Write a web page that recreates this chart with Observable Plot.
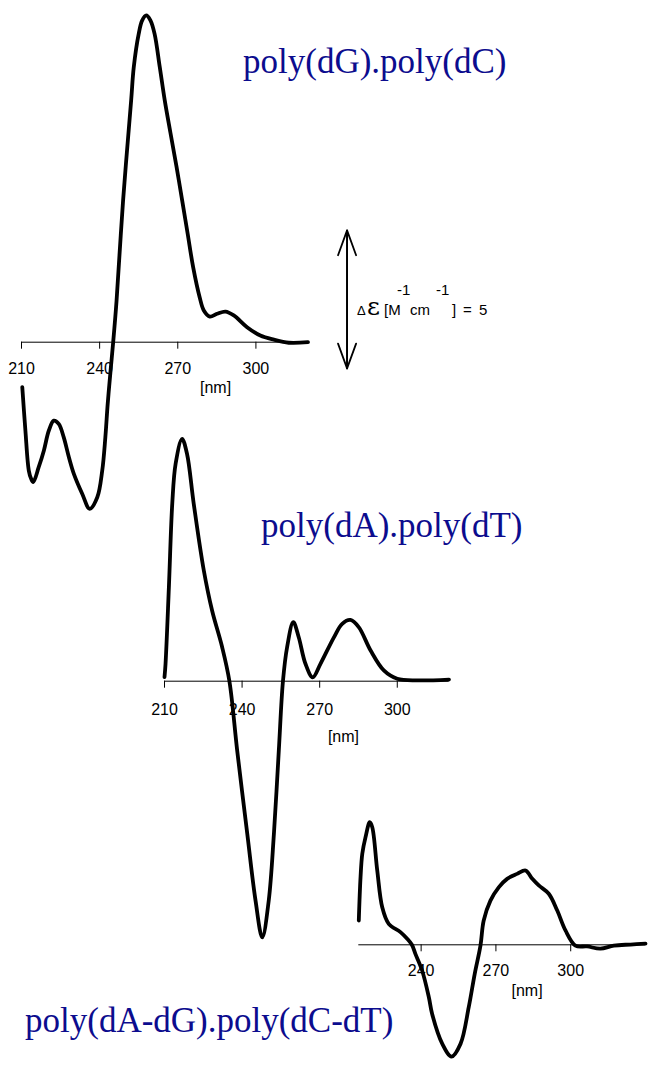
<!DOCTYPE html>
<html><head><meta charset="utf-8">
<script src="https://cdn.jsdelivr.net/npm/d3@7"></script>
<script src="https://cdn.jsdelivr.net/npm/@observablehq/plot@0.6"></script>
<style>
body{margin:0;background:#fff;}
#wrap{position:relative;width:651px;height:1065px;overflow:hidden;background:#fff;}
#wrap svg{position:absolute;left:0;top:0;}
</style></head><body><div id="wrap"></div>
<script>
// ---- data (wavelength in nm, delta epsilon in M^-1 cm^-1) ----
const tickValues = [210, 240, 270, 300];

const titles = ["poly(dG).poly(dC)", "poly(dA).poly(dT)", "poly(dA-dG).poly(dC-dT)"];

const nm1 = [210.3, 211.5, 212.8, 213.7, 214.5, 216.6, 218.6, 220.5, 222.4, 224.3, 226.2, 228.2, 230.1, 233.3, 236.2, 239.1, 241.0, 242.2, 243.1, 244.2, 245.2, 246.5, 249.0, 252.1, 253.1, 255.0, 256.3, 257.9, 259.5, 261.1, 263.1, 265.0, 267.2, 269.5, 271.7, 273.8, 275.9, 278.4, 280.0, 282.3, 285.1, 288.3, 291.5, 296.6, 301.7, 306.9, 312.6, 320];
const de1 = [-1.63, -3.2, -4.65, -4.95, -5.07, -4.53, -3.92, -3.2, -2.84, -2.96, -3.44, -4.17, -4.77, -5.49, -6.04, -5.62, -4.65, -3.44, -2.23, -1.03, 0, 1.51, 5.13, 8.76, 9.96, 11.17, 11.65, 11.84, 11.66, 11.17, 9.96, 8.76, 7.58, 6.37, 5.13, 3.93, 2.72, 1.63, 1.15, 0.93, 1.03, 1.11, 0.97, 0.54, 0.24, 0.09, -0.02, 0.0];

const nm2 = [210, 210.4, 211.7, 213.0, 214.3, 216.8, 218.7, 221.3, 225.2, 228.4, 232.3, 235.1, 238.1, 242.0, 245.2, 247.8, 250.3, 252.3, 254.2, 255.8, 257.4, 259.8, 261.9, 264.5, 267.3, 270.3, 275.5, 278.7, 281.9, 285.1, 289.7, 294.8, 300.0, 307.7, 320];
const de2 = [0.15, 0.63, 3.41, 6.43, 7.88, 8.78, 8.24, 6.43, 4.01, 2.56, 1.23, 0, -2.51, -5.53, -7.95, -9.28, -7.95, -5.53, -2.51, 0, 1.23, 2.14, 1.59, 0.63, 0.14, 0.63, 1.59, 2.08, 2.22, 1.96, 1.11, 0.39, 0.09, 0.03, 0.06];

const nm3 = [215.0, 215.7, 216.4, 217.7, 219.4, 220.4, 222.4, 224.4, 227.0, 231.7, 234.4, 236.3, 237.7, 240.4, 243.1, 244.4, 248.5, 252.2, 255.8, 259.1, 261.5, 263.8, 265.1, 267.8, 271.2, 274.5, 278.5, 281.9, 284.6, 287.2, 291.2, 294.6, 297.9, 301.9, 306.6, 311.9, 317.3, 324.0, 330.0];
const de3 = [0.88, 2.45, 3.30, 3.90, 4.44, 4.26, 2.69, 1.36, 0.76, 0.46, 0.22, 0, -0.33, -0.93, -1.9, -2.5, -3.59, -4.05, -3.59, -2.26, -1.05, -0.03, 0.88, 1.6, 2.09, 2.39, 2.57, 2.69, 2.39, 2.15, 1.85, 1.24, 0.52, -0.03, -0.06, -0.14, -0.03, 0.01, 0.04];

const domains = [[210, 320], [210, 320], [215, 330]];
const nmLabelAt = [284.5, 279.2, 282.5];
// scale bar: delta epsilon = 5, drawn in panel 1 coordinates
const scaleBarNm = 335.0;
const scaleBarValue = 5;
const scaleBarBase = -0.95;

// ---- layout ----
const W = 651, H = 1065, PX_PER_UNIT = 27.6;
const layout = [
  {xr: [21, 307.5], y0: 341.7, pad: 13, nmDy: 46},
  {xr: [164, 448.5], y0: 680.7, pad: 15, nmDy: 56},
  {xr: [358.3, 645], y0: 944.3, pad: 13, nmDy: 46}
];
const series = [[nm1, de1], [nm2, de2], [nm3, de3]];
const wrap = document.getElementById("wrap");

series.forEach(([nm, de], i) => {
  const L = layout[i];
  const data = nm.map((x, j) => ({nm: x, de: de[j]}));
  const dom = domains[i];
  const marks = [
    Plot.ruleY([0], {stroke: "black", strokeWidth: 1}),
    Plot.line(data, {x: "nm", y: "de", curve: "catmull-rom", stroke: "black", strokeWidth: 3.8, strokeLinejoin: "round", strokeLinecap: "round"}),
    Plot.text([nmLabelAt[i]], {x: d => d, y: 0, dy: L.nmDy, text: () => "[nm]", fontSize: 16, fill: "black"})
  ];
  if (i === 0) {
    const top = scaleBarBase + scaleBarValue;
    marks.push(Plot.arrow([{a: scaleBarBase, b: top}, {a: top, b: scaleBarBase}], {
      x1: scaleBarNm, x2: scaleBarNm, y1: "a", y2: "b", stroke: "black", strokeWidth: 1.8, headAngle: 40, headLength: 22
    }));
  }
  const svg = Plot.plot({
    width: W, height: H,
    marginLeft: L.xr[0], marginRight: W - L.xr[1], marginTop: 0, marginBottom: H - L.y0,
    x: {domain: dom, ticks: tickValues.filter(t => t >= dom[0] && t <= dom[1]), tickSize: 7, tickPadding: L.pad, label: null, tickFormat: d => String(d)},
    y: {domain: [-10, 13], range: [L.y0 + 10 * PX_PER_UNIT, L.y0 - 13 * PX_PER_UNIT], axis: null},
    style: {background: "transparent", overflow: "visible", fontFamily: "'Liberation Sans', Arial, sans-serif", fontSize: "16px", color: "black"},
    marks
  });
  wrap.appendChild(svg);
});

// ---- text overlay ----
const ov = d3.select(wrap).append("svg").attr("width", W).attr("height", H).style("overflow", "visible");
const titlePos = [[243, 72.5], [261, 537], [25, 1032]];
titles.forEach((t, i) => {
  ov.append("text").attr("x", titlePos[i][0]).attr("y", titlePos[i][1])
    .attr("font-family", "'Liberation Serif','Times New Roman',serif").attr("font-size", 35)
    .attr("fill", "#0c0c8e").text(t);
});
const sans = "'Liberation Sans',Arial,sans-serif";
const lab = [
  {t: "\u0394", x: 357, y: 315, s: 13, f: sans},
  {t: "\u03B5", x: 367, y: 315, s: 25, f: "'DejaVu Serif',serif"},
  {t: "[M", x: 384, y: 315, s: 15, f: sans},
  {t: "-1", x: 397, y: 295, s: 15, f: sans},
  {t: "cm", x: 410, y: 315, s: 15, f: sans},
  {t: "-1", x: 436, y: 295, s: 15, f: sans},
  {t: "]", x: 452, y: 315, s: 15, f: sans},
  {t: "=", x: 463, y: 315, s: 15, f: sans},
  {t: "5", x: 479, y: 315, s: 15, f: sans}
];
lab.forEach(d => {
  ov.append("text").attr("x", d.x).attr("y", d.y).attr("font-size", d.s).attr("font-family", d.f).attr("fill", "black").text(d.t);
});
</script>
</body></html>
